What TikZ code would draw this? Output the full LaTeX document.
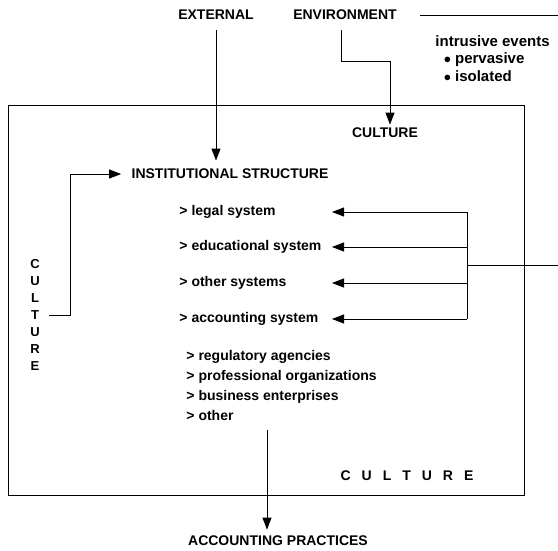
\documentclass[tikz,border=0pt]{standalone}
\usepackage{fontspec}
\setmainfont{Liberation Sans}
\usetikzlibrary{arrows.meta,positioning,calc}

\begin{document}
\begin{tikzpicture}[x=1pt,y=-1pt,line width=0.9pt,
  lbl/.style={font=\bfseries\fontsize{14}{16}\selectfont, inner sep=0pt},
  item/.style={font=\bfseries\fontsize{14}{16}\selectfont, anchor=west, inner sep=0pt},
  arr/.style={-{Triangle[length=12pt,width=9pt]}}]
\useasboundingbox (0,0) rectangle (558,550);
% the culture box
\draw (8,105) rectangle (524,495);
% top labels
\node[lbl] (ext) at (216,15) {EXTERNAL};
\node[lbl] (env) at (345,15) {ENVIRONMENT};
\coordinate (envend) at (558,15);
\draw ([xshift=23pt]env.east) -- (envend);
\node[lbl, anchor=north west, align=left, font=\bfseries\fontsize{15}{17.5}\selectfont] (intr) at (435,35)
  {intrusive events\\ \ \ $\bullet$ pervasive\\ \ \ $\bullet$ isolated};
% inside the box
\node[lbl] (cultop) at (385,133) {CULTURE};
\node[lbl] (inst) at (230,174) {INSTITUTIONAL STRUCTURE};
\node[lbl, align=center, font=\bfseries\fontsize{13}{17}\selectfont] (cultleft) at (35,315)
  {C\\U\\L\\T\\U\\R\\E};
% the systems
\node[item] (legal) at (179,212) {> legal system};
\node[item] (educ) at (179,247) {> educational system};
\node[item] (other) at (179,283) {> other systems};
\node[item] (acct) at (179,319) {> accounting system};
\node[item, anchor=north west, align=left, font=\bfseries\fontsize{14}{20}\selectfont] (orgs) at (186,350)
  {> regulatory agencies\\> professional organizations\\> business enterprises\\> other};
\node[lbl] (cultbot) at (407,476) {C\hspace{11pt}U\hspace{11pt}L\hspace{11pt}T\hspace{11pt}U\hspace{11pt}R\hspace{11pt}E};
\node[lbl] (accpr) at (278,541) {ACCOUNTING PRACTICES};
% arrows from the environment
\draw[arr, shorten >=8pt] ([yshift=-10pt]ext.south) -- (ext.south |- inst.north);
\coordinate (envknee) at (390,61);
\draw[arr, shorten >=3pt] ([xshift=-4pt,yshift=-10pt]env.south) |- (envknee) -- (envknee |- cultop.north);
\draw[arr, shorten >=10pt] ([xshift=9pt]cultleft.east) -- ++(21,0) |- (inst.west);
% intrusive events to the systems
\coordinate (rtend) at (558,265);
\coordinate (jn) at (467,265);
\coordinate (tips) at (332,265);
\draw (rtend) -- (jn);
\draw (jn |- legal) -- (jn |- acct);
\foreach \n in {legal,educ,other,acct} {
  \draw[arr] (jn |- \n) -- (tips |- \n);
}
% down to the practices
\coordinate (downx) at (267,0);
\draw[arr, shorten <=9pt, shorten >=6pt] (downx |- orgs.south) -- (downx |- accpr.north);
\end{tikzpicture}
\end{document}
